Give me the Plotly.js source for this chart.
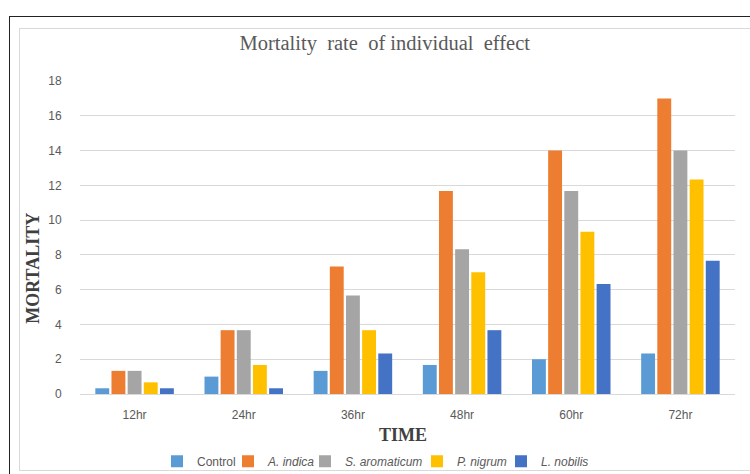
<!DOCTYPE html>
<html>
<head>
<meta charset="utf-8">
<script src="https://cdn.plot.ly/plotly-3.0.1.min.js"></script>
<style>
html,body{margin:0;padding:0;background:#fff;}
#wrap{position:relative;width:750px;height:474px;overflow:hidden;}
#chart{position:absolute;left:0;top:0;width:750px;height:474px;}
#outer{position:absolute;left:9px;top:16px;width:800px;height:500px;border-top:1px solid #222;border-left:1px solid #222;pointer-events:none;}
#inner{position:absolute;left:19px;top:28px;width:800px;height:441px;border:1px solid #d9d9d9;pointer-events:none;}
</style>
</head>
<body>
<div id="wrap">
<div id="chart"></div>
<div id="outer"></div>
<div id="inner"></div>
</div>
<script>
const categories = ["12hr","24hr","36hr","48hr","60hr","72hr"];
const seriesNames = ["Control","<i>A. indica</i>","<i>S. aromaticum</i>","<i>P. nigrum</i>","<i>L. nobilis</i>"];
const control     = [0.33, 1.0, 1.33, 1.67, 2.0, 2.33];
const aIndica     = [1.33, 3.67, 7.33, 11.67, 14.0, 17.0];
const sAromaticum = [1.33, 3.67, 5.67, 8.33, 11.67, 14.0];
const pNigrum     = [0.67, 1.67, 3.67, 7.0, 9.33, 12.33];
const lNobilis    = [0.33, 0.33, 2.33, 3.67, 6.33, 7.67];
const colors = ["#5B9BD5","#ED7D31","#A5A5A5","#FFC000","#4472C4"];
const values = [control, aIndica, sAromaticum, pNigrum, lNobilis];
// left edge (px) of each legend entry's text in the reference
const legendTextX = [197, 268, 345, 457, 541];

const legendIds = ["legend","legend2","legend3","legend4","legend5"];
const traces = values.map((v,i)=>({
  type:"bar", x:categories, y:v, name:seriesNames[i],
  marker:{color:colors[i]}, legend:legendIds[i]
}));

const layout = {
  width:750, height:474,
  paper_bgcolor:"#fff", plot_bgcolor:"#fff",
  margin:{l:80,r:15,t:81,b:80, autoexpand:false},
  barmode:"group", bargap:0.26, bargroupgap:0.14,
  title:{text:"Mortality  rate  of individual  effect", x:0.513, xanchor:"center", y:0.909, yanchor:"middle",
    font:{family:"Liberation Serif", size:20.5, color:"#595959"}},
  xaxis:{
    automargin:false,
    tickfont:{family:"Liberation Sans", size:12, color:"#595959"},
    showline:true, linecolor:"#D9D9D9", ticks:"outside", ticklen:10, tickcolor:"rgba(0,0,0,0)"
  },
  yaxis:{
    automargin:false,
    range:[0,18], dtick:2, showgrid:true, gridcolor:"#D9D9D9", zeroline:true, zerolinecolor:"#D9D9D9",
    tickfont:{family:"Liberation Sans", size:12, color:"#595959"}, ticks:"outside", ticklen:15, tickcolor:"rgba(0,0,0,0)"
  },
  annotations:[
    {text:"<b>MORTALITY</b>", xref:"paper", yref:"paper", x:0, xshift:-47, y:0.40, textangle:-90,
     showarrow:false, xanchor:"center", yanchor:"middle",
     font:{family:"Liberation Serif", size:18, color:"#404040"}},
    {text:"<b>TIME</b>", xref:"paper", yref:"paper", x:0.493, y:-0.131,
     showarrow:false, xanchor:"center", yanchor:"middle",
     font:{family:"Liberation Serif", size:18, color:"#404040"}}
  ],
  showlegend:true
};
legendIds.forEach((id,i)=>{
  layout[id] = {orientation:"h", x:(legendTextX[i]-40)/750, xref:"container", xanchor:"left",
    y:0.027, yref:"container", yanchor:"middle", bgcolor:"rgba(0,0,0,0)",
    font:{family:"Liberation Sans", size:12, color:"#595959"}, itemwidth:30};
});
Plotly.newPlot("chart", traces, layout, {displayModeBar:false, staticPlot:true});
</script>
</body>
</html>
